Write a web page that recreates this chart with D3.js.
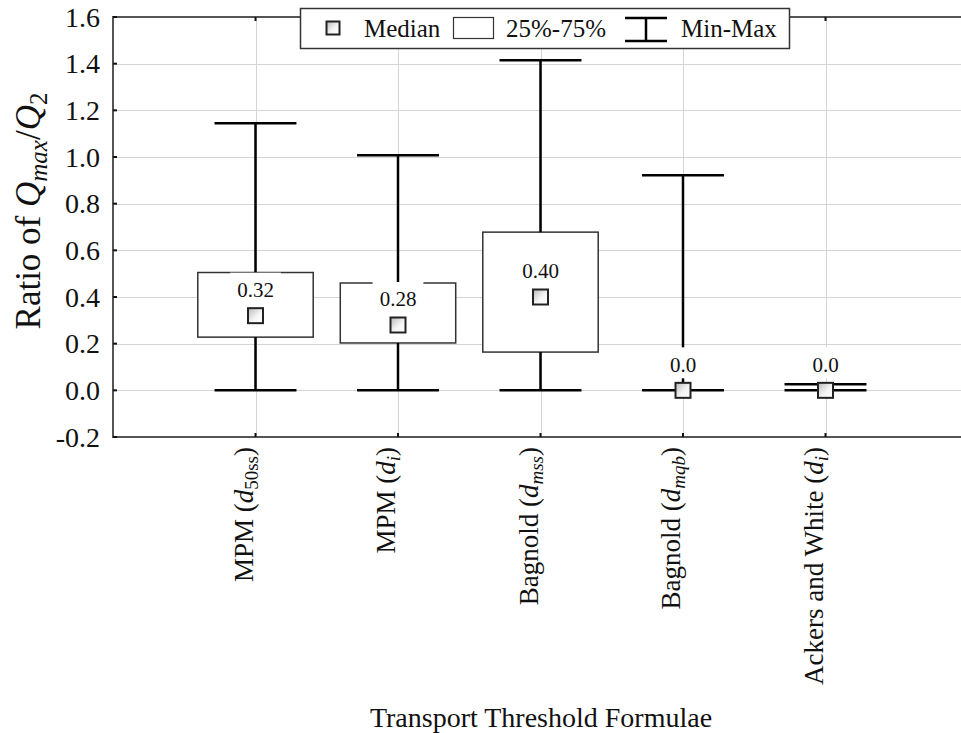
<!DOCTYPE html>
<html>
<head>
<meta charset="utf-8">
<script src="https://cdn.jsdelivr.net/npm/d3@7/dist/d3.min.js"></script>
<style>
  html, body { margin: 0; padding: 0; background: #fff; }
  svg text { font-family: "Liberation Serif", "Times New Roman", "DejaVu Serif", serif; }
</style>
</head>
<body>
<svg id="chart" width="961" height="733"></svg>
<script>
// Box-plot summaries of Qmax/Q2 for each transport threshold formula
const categories = ["MPM (d50ss)", "MPM (di)", "Bagnold (dmss)", "Bagnold (dmqb)", "Ackers and White (di)"];
// label pieces: [text before d, subscript, subscript in italics]
const labelParts = [
  ["MPM (", "50ss", false],
  ["MPM (", "i", true],
  ["Bagnold (", "mss", true],
  ["Bagnold (", "mqb", true],
  ["Ackers and White (", "i", true]
];
const minVals    = [0.0, 0.0, 0.0, 0.0, 0.0];
const q1Vals     = [0.228, 0.203, 0.164, 0.0, 0.0];
const medianVals = [0.32, 0.28, 0.40, 0.0, 0.0];
const q3Vals     = [0.505, 0.46, 0.678, 0.0, 0.0];
const maxVals    = [1.145, 1.007, 1.415, 0.922, 0.026];
const medianLabels = ["0.32", "0.28", "0.40", "0.0", "0.0"];
const yTicks = [-0.2, 0.0, 0.2, 0.4, 0.6, 0.8, 1.0, 1.2, 1.4, 1.6];
const yTickLabels = ["-0.2", "0.0", "0.2", "0.4", "0.6", "0.8", "1.0", "1.2", "1.4", "1.6"];

const FONT = '"Liberation Serif", "Times New Roman", "DejaVu Serif", serif';
const svg = d3.select("#chart").attr("font-family", FONT);
const x = d3.scaleLinear().domain([0, 6]).range([113, 968]);
const y = d3.scaleLinear().domain([-0.2, 1.6]).range([437, 17]);
const step = x(1) - x(0);
const boxW = step * 0.81;
const capW = step * 0.575;

// gradient for the median markers
const defs = svg.append("defs");
const grad = defs.append("linearGradient").attr("id", "medFill")
  .attr("x1", "0").attr("y1", "0").attr("x2", "1").attr("y2", "1");
grad.append("stop").attr("offset", "0%").attr("stop-color", "#b8b8b8");
grad.append("stop").attr("offset", "55%").attr("stop-color", "#f4f4f4");
grad.append("stop").attr("offset", "100%").attr("stop-color", "#ffffff");

// grid
const grid = svg.append("g").attr("stroke", "#d4d4d4").attr("stroke-width", 1);
grid.selectAll("line.h").data(yTicks.slice(1, -1)).join("line")
  .attr("x1", x(0)).attr("x2", 961)
  .attr("y1", d => Math.round(y(d)) + 0.5).attr("y2", d => Math.round(y(d)) + 0.5);
grid.selectAll("line.v").data(d3.range(1, 6)).join("line")
  .attr("x1", d => Math.round(x(d)) + 0.5).attr("x2", d => Math.round(x(d)) + 0.5)
  .attr("y1", y(1.6)).attr("y2", y(-0.2));

// frame: left, bottom, top
const frame = svg.append("g").attr("stroke", "#555").attr("stroke-width", 2).attr("fill", "none");
frame.append("line").attr("x1", x(0)).attr("x2", x(0)).attr("y1", y(1.6) - 1).attr("y2", y(-0.2) + 1);
frame.append("line").attr("x1", x(0)).attr("x2", 961).attr("y1", y(-0.2)).attr("y2", y(-0.2));
frame.append("line").attr("x1", x(0)).attr("x2", 961).attr("y1", y(1.6)).attr("y2", y(1.6));

// inward ticks
const ticks = svg.append("g").attr("stroke", "#111").attr("stroke-width", 2);
ticks.selectAll("line.yl").data(yTicks).join("line")
  .attr("x1", x(0)).attr("x2", x(0) + 4)
  .attr("y1", d => y(d)).attr("y2", d => y(d));
ticks.selectAll("line.xb").data(d3.range(1, 6)).join("line")
  .attr("x1", d => x(d)).attr("x2", d => x(d))
  .attr("y1", y(-0.2)).attr("y2", y(-0.2) - 4);
ticks.selectAll("line.xt").data(d3.range(1, 6)).join("line")
  .attr("x1", d => x(d)).attr("x2", d => x(d))
  .attr("y1", y(1.6)).attr("y2", y(1.6) + 4);

// y tick labels
svg.append("g").selectAll("text").data(yTicks).join("text")
  .attr("x", 100).attr("y", d => y(d)).attr("dy", "0.35em")
  .attr("text-anchor", "end").attr("font-size", 28).attr("fill", "#111")
  .text((d, i) => yTickLabels[i]);

// boxes
const boxes = svg.append("g").selectAll("g").data(categories).join("g");
boxes.each(function (c, i) {
  const g = d3.select(this);
  const cx = x(i + 1);
  const hasBox = q3Vals[i] > q1Vals[i];
  // box
  g.append("rect").attr("x", cx - boxW / 2).attr("width", boxW)
    .attr("y", y(q3Vals[i])).attr("height", Math.max(0, y(q1Vals[i]) - y(q3Vals[i])))
    .attr("fill", hasBox ? "#fff" : "none")
    .attr("stroke", "#333").attr("stroke-width", 1.5);
  // whiskers outside the box
  g.append("line").attr("x1", cx).attr("x2", cx)
    .attr("y1", y(maxVals[i])).attr("y2", y(q3Vals[i]))
    .attr("stroke", "#000").attr("stroke-width", 2.5);
  g.append("line").attr("x1", cx).attr("x2", cx)
    .attr("y1", y(q1Vals[i])).attr("y2", y(minVals[i]))
    .attr("stroke", "#000").attr("stroke-width", 2.5);
  // caps
  [maxVals[i], minVals[i]].forEach(v => {
    g.append("line").attr("x1", cx - capW / 2).attr("x2", cx + capW / 2)
      .attr("y1", y(v)).attr("y2", y(v))
      .attr("stroke", "#000").attr("stroke-width", 2.5);
  });
  // median value label with white backing
  const ly = y(medianVals[i]) - 26;
  const lab = g.append("g");
  const t = lab.append("text").attr("x", cx).attr("y", ly).attr("dy", "0.35em")
    .attr("text-anchor", "middle").attr("font-size", 21).attr("fill", "#111")
    .text(medianLabels[i]);
  const bb = t.node().getBBox();
  lab.insert("rect", "text").attr("x", bb.x - 7).attr("width", bb.width + 14)
    .attr("y", ly - 17).attr("height", 31).attr("fill", "#fff");
  // median marker
  g.append("rect").attr("x", cx - 7.5).attr("y", y(medianVals[i]) - 7.5)
    .attr("width", 15).attr("height", 15)
    .attr("fill", "url(#medFill)").attr("stroke", "#222").attr("stroke-width", 2);
});

// x tick labels, rotated
const xl = svg.append("g").selectAll("text").data(labelParts).join("text")
  .attr("transform", (d, i) => `translate(${x(i + 1) - 3},447) rotate(-90)`)
  .attr("text-anchor", "end").attr("font-size", 27).attr("fill", "#111");
xl.each(function (d) {
  const t = d3.select(this);
  t.append("tspan").text(d[0]);
  t.append("tspan").attr("font-style", "italic").text("d");
  t.append("tspan").attr("font-size", 19).attr("dy", 5)
    .attr("font-style", d[2] ? "italic" : "normal").text(d[1]);
  t.append("tspan").attr("dy", -5).text(")");
});

// axis titles
svg.append("text").attr("x", 541).attr("y", 727).attr("text-anchor", "middle")
  .attr("font-size", 28).attr("fill", "#111").text("Transport Threshold Formulae");
const yt = svg.append("text").attr("transform", "translate(40,211) rotate(-90)")
  .attr("text-anchor", "middle").attr("font-size", 35).attr("fill", "#111");
yt.append("tspan").text("Ratio of ");
yt.append("tspan").attr("font-style", "italic").text("Q");
yt.append("tspan").attr("font-style", "italic").attr("font-size", 25).attr("dy", 7).text("max");
yt.append("tspan").attr("dy", -7).text("/");
yt.append("tspan").attr("font-style", "italic").text("Q");
yt.append("tspan").attr("font-size", 25).attr("dy", 7).text("2");

// legend
const lg = svg.append("g");
lg.append("rect").attr("x", 300.5).attr("y", 8.5).attr("width", 489).attr("height", 40)
  .attr("fill", "#fff").attr("stroke", "#333").attr("stroke-width", 1.5);
lg.append("rect").attr("x", 326.5).attr("y", 21.5).attr("width", 13).attr("height", 13)
  .attr("fill", "url(#medFill)").attr("stroke", "#222").attr("stroke-width", 2);
lg.append("text").attr("x", 364).attr("y", 37).attr("font-size", 25).attr("fill", "#111").text("Median");
lg.append("rect").attr("x", 453.5).attr("y", 17.5).attr("width", 40).attr("height", 21)
  .attr("fill", "#fff").attr("stroke", "#333").attr("stroke-width", 1.2);
lg.append("text").attr("x", 506).attr("y", 37).attr("font-size", 25).attr("fill", "#111").text("25%-75%");
const mm = lg.append("g").attr("stroke", "#000").attr("stroke-width", 2.5);
mm.append("line").attr("x1", 625).attr("x2", 667).attr("y1", 18).attr("y2", 18);
mm.append("line").attr("x1", 625).attr("x2", 667).attr("y1", 41).attr("y2", 41);
mm.append("line").attr("x1", 646).attr("x2", 646).attr("y1", 18).attr("y2", 41);
lg.append("text").attr("x", 681).attr("y", 37).attr("font-size", 25).attr("fill", "#111").text("Min-Max");
</script>
</body>
</html>
